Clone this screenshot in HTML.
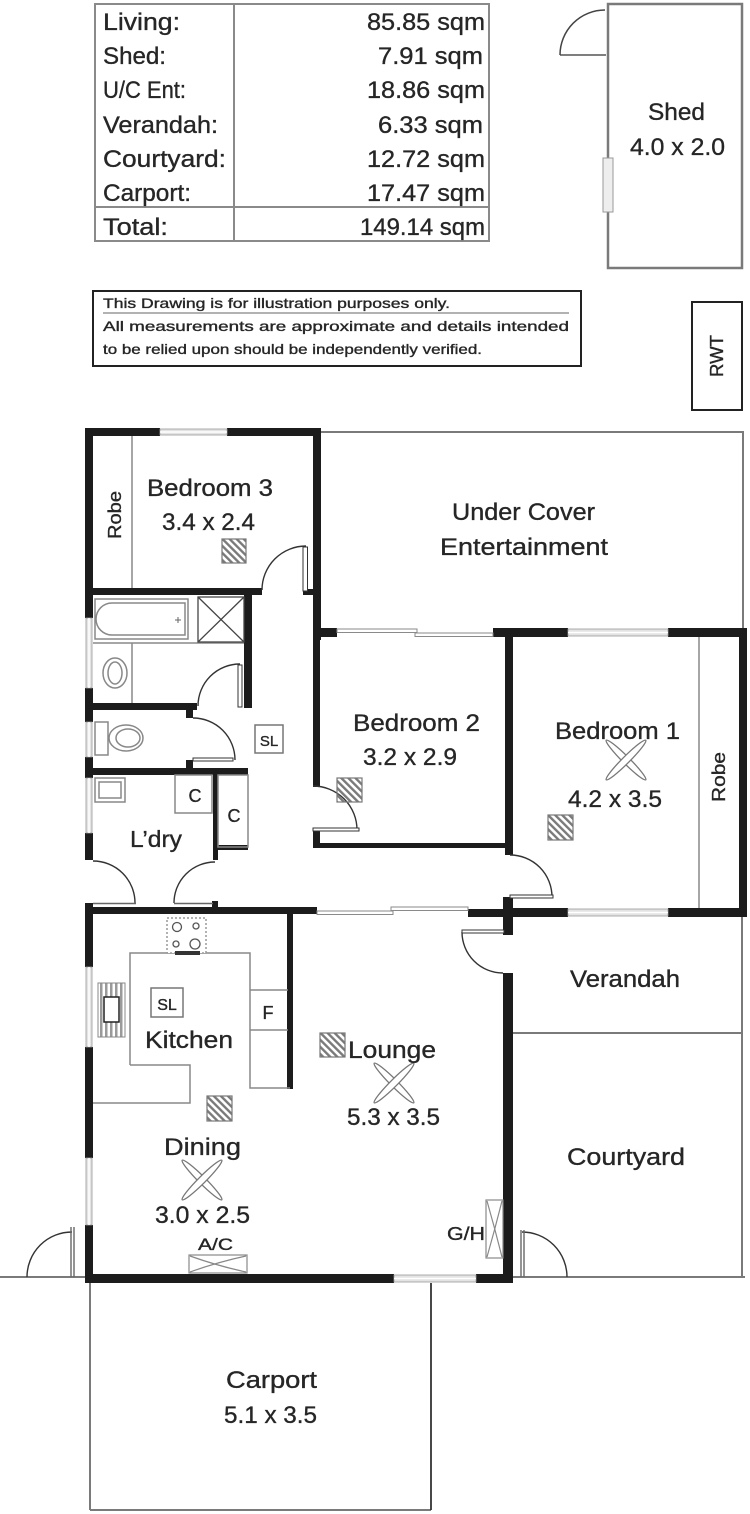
<!DOCTYPE html>
<html><head><meta charset="utf-8"><style>
html,body{margin:0;padding:0;background:#fff;}
svg{display:block;}
text{font-family:"Liberation Sans",sans-serif;fill:#262626;stroke:#262626;stroke-width:0.35;}
</style></head><body>
<svg width="750" height="1514" viewBox="0 0 750 1514" xmlns="http://www.w3.org/2000/svg">
<defs>
<pattern id="h" patternUnits="userSpaceOnUse" width="5" height="5" patternTransform="rotate(-45)"><rect width="2.4" height="5" fill="#7a7a7a"/></pattern>
<pattern id="vs" patternUnits="userSpaceOnUse" width="5" height="5"><rect width="2.5" height="5" fill="#9a9a9a"/></pattern>
</defs>

<!-- ===== Area table ===== -->
<rect x="95" y="4" width="394" height="237" fill="none" stroke="#8a8a8a" stroke-width="2"/>
<line x1="234" y1="4" x2="234" y2="241" stroke="#8a8a8a" stroke-width="2"/>
<line x1="95" y1="207" x2="489" y2="207" stroke="#8a8a8a" stroke-width="2"/>
<g font-size="24">
<text x="103" y="30" textLength="77" lengthAdjust="spacingAndGlyphs">Living:</text>
<text x="103" y="64" textLength="63" lengthAdjust="spacingAndGlyphs">Shed:</text>
<text x="103" y="98" textLength="83" lengthAdjust="spacingAndGlyphs">U/C Ent:</text>
<text x="103" y="133" textLength="115" lengthAdjust="spacingAndGlyphs">Verandah:</text>
<text x="103" y="167" textLength="123" lengthAdjust="spacingAndGlyphs">Courtyard:</text>
<text x="103" y="201" textLength="88" lengthAdjust="spacingAndGlyphs">Carport:</text>
<text x="103" y="235" textLength="65" lengthAdjust="spacingAndGlyphs">Total:</text>
<text x="485" y="30" text-anchor="end" textLength="118" lengthAdjust="spacingAndGlyphs">85.85 sqm</text>
<text x="483" y="64" text-anchor="end" textLength="105" lengthAdjust="spacingAndGlyphs">7.91 sqm</text>
<text x="485" y="98" text-anchor="end" textLength="118" lengthAdjust="spacingAndGlyphs">18.86 sqm</text>
<text x="483" y="133" text-anchor="end" textLength="105" lengthAdjust="spacingAndGlyphs">6.33 sqm</text>
<text x="485" y="167" text-anchor="end" textLength="118" lengthAdjust="spacingAndGlyphs">12.72 sqm</text>
<text x="485" y="201" text-anchor="end" textLength="118" lengthAdjust="spacingAndGlyphs">17.47 sqm</text>
<text x="485" y="235" text-anchor="end" textLength="125" lengthAdjust="spacingAndGlyphs">149.14 sqm</text>
</g>

<!-- ===== Shed ===== -->
<rect x="608" y="4" width="134" height="264" fill="none" stroke="#7a7a7a" stroke-width="2.5"/>
<rect x="603" y="158" width="10" height="54" fill="#eee" stroke="#999" stroke-width="1"/>
<line x1="560" y1="55" x2="606" y2="55" stroke="#555" stroke-width="1.5"/>
<path d="M560,55 A45,45 0 0 1 605,10" fill="none" stroke="#444" stroke-width="1.5"/>
<text x="676.5" y="120" font-size="24" text-anchor="middle" textLength="57" lengthAdjust="spacingAndGlyphs">Shed</text>
<text x="677.5" y="155" font-size="24" text-anchor="middle" textLength="95" lengthAdjust="spacingAndGlyphs">4.0 x 2.0</text>

<!-- ===== RWT ===== -->
<rect x="692" y="302" width="50" height="108" fill="none" stroke="#222" stroke-width="2"/>
<text transform="translate(717,356) rotate(-90)" y="6" font-size="18" text-anchor="middle" textLength="42" lengthAdjust="spacingAndGlyphs">RWT</text>

<!-- ===== Disclaimer ===== -->
<rect x="93" y="291" width="488" height="75" fill="none" stroke="#222" stroke-width="2"/>
<g font-size="14">
<text x="103" y="308" textLength="347" lengthAdjust="spacingAndGlyphs">This Drawing is for illustration purposes only.</text>
<line x1="103" y1="313" x2="569" y2="313" stroke="#666" stroke-width="1"/>
<text x="103" y="331" textLength="466" lengthAdjust="spacingAndGlyphs">All measurements are approximate and details intended</text>
<text x="103" y="354" textLength="379" lengthAdjust="spacingAndGlyphs">to be relied upon should be independently verified.</text>
</g>

<!-- ===== Thin outlines (outdoor areas) ===== -->
<g stroke="#7a7a7a" stroke-width="2" fill="none">
<polyline points="321,432 743,432 743,630"/>
<polyline points="742,917 742,1277"/>
<line x1="513" y1="1033" x2="742" y2="1033"/>
<line x1="513" y1="1277" x2="745" y2="1277"/>
<line x1="0" y1="1277" x2="85" y2="1277"/>
<line x1="90" y1="1283" x2="90" y2="1510"/>
<line x1="90" y1="1510" x2="431" y2="1510"/>
</g>
<line x1="431" y1="1283" x2="431" y2="1510" stroke="#333" stroke-width="1.8"/>

<!-- ===== Thick walls ===== -->
<g fill="#1c1c1c">
<rect x="85" y="428" width="75" height="8"/>
<rect x="227" y="428" width="94" height="8"/>
<rect x="85" y="428" width="8" height="190"/>
<rect x="85" y="688" width="8" height="34"/>
<rect x="85" y="757" width="8" height="21"/>
<rect x="85" y="833" width="8" height="27"/>
<rect x="85" y="903" width="8" height="64"/>
<rect x="85" y="1047" width="8" height="111"/>
<rect x="85" y="1225" width="8" height="58"/>
<rect x="313" y="428" width="8" height="212"/>
<rect x="313" y="628" width="24" height="9"/>
<rect x="493" y="628" width="75" height="9"/>
<rect x="668" y="628" width="79" height="9"/>
<rect x="739" y="628" width="8" height="289"/>
<rect x="505" y="908" width="63" height="9"/>
<rect x="668" y="908" width="79" height="9"/>
<rect x="505" y="628" width="8" height="227"/>
<rect x="313" y="637" width="7" height="150"/>
<rect x="313" y="830" width="7" height="18"/>
<rect x="313" y="843" width="197" height="5"/>
<rect x="503" y="897" width="10" height="38"/>
<rect x="503" y="973" width="10" height="310"/>
<rect x="85" y="907" width="232" height="7"/>
<rect x="468" y="909" width="40" height="8"/>
<rect x="85" y="1274" width="309" height="9"/>
<rect x="476" y="1274" width="37" height="9"/>
<rect x="287" y="913" width="6" height="176"/>
<rect x="93" y="588" width="169" height="7"/>
<rect x="303" y="589" width="10" height="6"/>
<rect x="244" y="595" width="8" height="113"/>
<rect x="93" y="703" width="104" height="7"/>
<rect x="186" y="708" width="7" height="10"/>
<rect x="186" y="760" width="7" height="10"/>
<rect x="93" y="768" width="155" height="7"/>
<rect x="213" y="775" width="5" height="85"/>
<rect x="212" y="901" width="6" height="8"/>
<rect x="218" y="845" width="30" height="5"/>
</g>

<!-- ===== Windows ===== -->
<g fill="#e3e3e3" stroke="#9a9a9a" stroke-width="0.8">
<rect x="160" y="429" width="67" height="6"/>
<rect x="86" y="618" width="6" height="70"/>
<rect x="86" y="722" width="6" height="35"/>
<rect x="86" y="778" width="6" height="55"/>
<rect x="86" y="967" width="6" height="80"/>
<rect x="86" y="1158" width="6" height="67"/>
<rect x="568" y="629" width="100" height="7"/>
<rect x="568" y="909" width="100" height="7"/>
<rect x="394" y="1275" width="82" height="7"/>
</g>
<g stroke="#fff" stroke-width="1.5">
<line x1="160" y1="432" x2="227" y2="432"/>
<line x1="89" y1="618" x2="89" y2="688"/>
<line x1="89" y1="722" x2="89" y2="757"/>
<line x1="89" y1="778" x2="89" y2="833"/>
<line x1="89" y1="967" x2="89" y2="1047"/>
<line x1="89" y1="1158" x2="89" y2="1225"/>
<line x1="568" y1="632.5" x2="668" y2="632.5"/>
<line x1="568" y1="912.5" x2="668" y2="912.5"/>
<line x1="394" y1="1278.5" x2="476" y2="1278.5"/>
</g>

<!-- ===== Sliding doors ===== -->
<g fill="#fff" stroke="#8a8a8a" stroke-width="1">
<rect x="337" y="629" width="80" height="3.5"/>
<rect x="415" y="633" width="78" height="3.5"/>
<rect x="317" y="911" width="76" height="3.5"/>
<rect x="391" y="907" width="77" height="3.5"/>
</g>

<!-- ===== Doors ===== -->
<g fill="none" stroke="#333" stroke-width="1.4">
<path d="M262,590 A44,44 0 0 1 306,546"/>
<path d="M198,706 A42,42 0 0 1 240,664"/>
<path d="M193,718 A42,42 0 0 1 235,760"/>
<path d="M93,861 A42,42 0 0 1 135,903"/>
<path d="M215,862 A41,41 0 0 0 174,903"/>
<path d="M313,786 A44,44 0 0 1 357,830"/>
<path d="M510,855 A42,42 0 0 1 552,897"/>
<path d="M462,932 A41,41 0 0 0 503,973"/>
<path d="M72,1232 A45,45 0 0 0 27,1277"/>
<path d="M522,1232 A45,45 0 0 1 567,1277"/>
</g>
<g fill="#fff" stroke="#333" stroke-width="1">
<rect x="303" y="547" width="4.5" height="44"/>
<rect x="238" y="665" width="4" height="42"/>
<rect x="193" y="758" width="40" height="3"/>
<rect x="462" y="930" width="42" height="3"/>
<rect x="313" y="828" width="46" height="3"/>
<rect x="510" y="895" width="43" height="3"/>
</g>
<g stroke="#666" stroke-width="1.4">
<line x1="93" y1="903.5" x2="136" y2="903.5"/>
<line x1="174" y1="903.5" x2="213" y2="903.5"/>
<line x1="71" y1="1227" x2="71" y2="1277"/>
<line x1="74" y1="1227" x2="74" y2="1277"/>
<line x1="521" y1="1230" x2="521" y2="1277"/>
<line x1="524" y1="1230" x2="524" y2="1277"/>
</g>

<!-- ===== Fixtures ===== -->
<g fill="none" stroke="#888" stroke-width="1.5">
<line x1="132" y1="436" x2="132" y2="588"/>
<line x1="699" y1="637" x2="699" y2="908"/>
<rect x="95" y="599" width="93" height="40"/>
<path d="M112,603 L185,603 L185,635 L112,635 A16,16 0 0 1 112,603 Z"/>
<line x1="93" y1="643" x2="244" y2="643"/>
<line x1="132" y1="643" x2="132" y2="703"/>
<ellipse cx="115" cy="673" rx="12" ry="15"/>
<ellipse cx="115" cy="673" rx="7" ry="11"/>
<rect x="95" y="722" width="13" height="33"/>
<ellipse cx="126" cy="738" rx="17" ry="13"/>
<ellipse cx="128" cy="738" rx="12" ry="9"/>
<rect x="95" y="778" width="30" height="24"/>
<rect x="99" y="782" width="22" height="16"/>
<rect x="175" y="775" width="37" height="38"/>
<rect x="218" y="775" width="30" height="72"/>
<polyline points="130,1065 130,953 250,953 250,1088 290,1088"/>
<polyline points="130,1065 190,1065 190,1103 93,1103"/>
<line x1="250" y1="990" x2="288" y2="990"/>
<line x1="250" y1="1030" x2="288" y2="1030"/>
</g>
<g fill="none" stroke="#444" stroke-width="1.3">
<rect x="198" y="597" width="46" height="45"/>
<line x1="198" y1="597" x2="244" y2="642"/>
<line x1="244" y1="597" x2="198" y2="642"/>
</g>
<g stroke="#666" stroke-width="1"><line x1="175" y1="620" x2="181" y2="620"/><line x1="178" y1="617" x2="178" y2="623"/></g>
<rect x="167" y="918" width="39" height="35" fill="#fff" stroke="#999" stroke-width="1.5" stroke-dasharray="2,2"/>
<g fill="none" stroke="#555" stroke-width="1.3">
<circle cx="177" cy="927" r="4.5"/><circle cx="196" cy="926" r="3"/>
<circle cx="176" cy="944" r="3"/><circle cx="195" cy="944" r="5"/>
</g>
<rect x="175" y="951" width="25" height="4" fill="#333"/>
<rect x="98" y="983" width="27" height="54" fill="url(#vs)" stroke="#888" stroke-width="1"/>
<rect x="104" y="997" width="15" height="25" fill="#fff" stroke="#222" stroke-width="1.5"/>

<g fill="none" stroke="#777" stroke-width="1.5">
<rect x="255" y="725" width="28" height="28"/>
<rect x="151" y="988" width="32" height="29"/>
</g>
<text x="269" y="746" font-size="15" text-anchor="middle">SL</text>
<text x="167" y="1010" font-size="16" text-anchor="middle">SL</text>

<g fill="url(#h)" stroke="#777" stroke-width="1.2">
<rect x="222" y="539" width="24" height="24"/>
<rect x="337" y="778" width="25" height="24"/>
<rect x="548" y="815" width="25" height="25"/>
<rect x="320" y="1033" width="25" height="24"/>
<rect x="207" y="1096" width="25" height="25"/>
</g>

<g fill="#fff" stroke="#777" stroke-width="1.3">
<ellipse cx="626" cy="760" rx="28" ry="3.5" transform="rotate(45 626 760)"/>
<ellipse cx="626" cy="760" rx="28" ry="3.5" transform="rotate(-45 626 760)"/>
<ellipse cx="394" cy="1083" rx="28" ry="3.5" transform="rotate(45 394 1083)"/>
<ellipse cx="394" cy="1083" rx="28" ry="3.5" transform="rotate(-45 394 1083)"/>
<ellipse cx="202" cy="1180" rx="28" ry="3.5" transform="rotate(45 202 1180)"/>
<ellipse cx="202" cy="1180" rx="28" ry="3.5" transform="rotate(-45 202 1180)"/>
</g>

<rect x="189" y="1255" width="58" height="18" fill="#fff" stroke="#888" stroke-width="1.2"/>
<g stroke="#888" stroke-width="1.2" fill="none">
<path d="M190,1256 Q218,1266 246,1272"/><path d="M190,1272 Q218,1262 246,1256"/>
</g>
<rect x="486" y="1200" width="17" height="58" fill="#fff" stroke="#888" stroke-width="1.2"/>
<g stroke="#888" stroke-width="1.2" fill="none">
<path d="M487,1201 Q495,1229 502,1257"/><path d="M502,1201 Q495,1229 487,1257"/>
</g>

<!-- ===== Room labels ===== -->
<g font-size="24" text-anchor="middle">
<text x="210" y="496" textLength="126" lengthAdjust="spacingAndGlyphs">Bedroom 3</text>
<text x="208.5" y="530" textLength="93" lengthAdjust="spacingAndGlyphs">3.4 x 2.4</text>
<text x="523.5" y="520" textLength="143" lengthAdjust="spacingAndGlyphs">Under Cover</text>
<text x="524" y="555" textLength="168" lengthAdjust="spacingAndGlyphs">Entertainment</text>
<text x="416.5" y="731" textLength="127" lengthAdjust="spacingAndGlyphs">Bedroom 2</text>
<text x="410" y="765" textLength="94" lengthAdjust="spacingAndGlyphs">3.2 x 2.9</text>
<text x="617.5" y="739" textLength="125" lengthAdjust="spacingAndGlyphs">Bedroom 1</text>
<text x="615" y="807" textLength="94" lengthAdjust="spacingAndGlyphs">4.2 x 3.5</text>
<text x="625" y="987" textLength="110" lengthAdjust="spacingAndGlyphs">Verandah</text>
<text x="626" y="1165" textLength="118" lengthAdjust="spacingAndGlyphs">Courtyard</text>
<text x="189" y="1048" textLength="88" lengthAdjust="spacingAndGlyphs">Kitchen</text>
<text x="392" y="1058" textLength="88" lengthAdjust="spacingAndGlyphs">Lounge</text>
<text x="393.5" y="1125" textLength="93" lengthAdjust="spacingAndGlyphs">5.3 x 3.5</text>
<text x="202.5" y="1155" textLength="77" lengthAdjust="spacingAndGlyphs">Dining</text>
<text x="202.5" y="1223" textLength="95" lengthAdjust="spacingAndGlyphs">3.0 x 2.5</text>
<text x="271.5" y="1388" textLength="91" lengthAdjust="spacingAndGlyphs">Carport</text>
<text x="270.5" y="1423" textLength="93" lengthAdjust="spacingAndGlyphs">5.1 x 3.5</text>
</g>
<text x="156" y="847" font-size="23" text-anchor="middle" textLength="52" lengthAdjust="spacingAndGlyphs">L’dry</text>
<text x="195" y="802" font-size="18" text-anchor="middle">C</text>
<text x="234" y="822" font-size="18" text-anchor="middle">C</text>
<text x="268" y="1019" font-size="18" text-anchor="middle">F</text>
<text x="215.5" y="1250" font-size="17" text-anchor="middle" textLength="35" lengthAdjust="spacingAndGlyphs">A/C</text>
<text x="466" y="1240" font-size="18" text-anchor="middle" textLength="38" lengthAdjust="spacingAndGlyphs">G/H</text>
<text transform="translate(115,515) rotate(-90)" y="6" font-size="18" text-anchor="middle" textLength="48" lengthAdjust="spacingAndGlyphs">Robe</text>
<text transform="translate(719,777) rotate(-90)" y="6" font-size="18" text-anchor="middle" textLength="50" lengthAdjust="spacingAndGlyphs">Robe</text>
</svg>
</body></html>
